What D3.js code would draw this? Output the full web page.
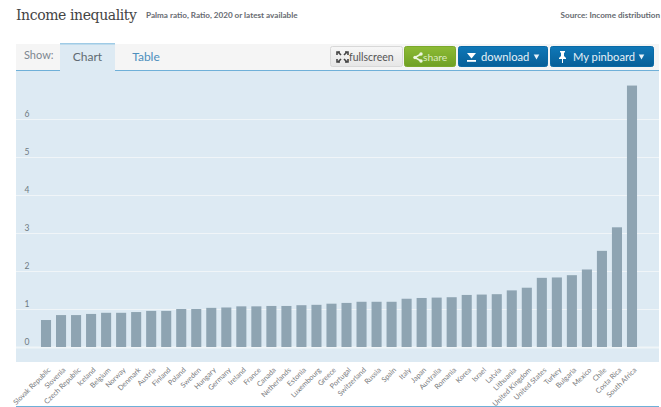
<!DOCTYPE html>
<html>
<head>
<meta charset="utf-8">
<script src="https://cdn.jsdelivr.net/npm/d3@7/dist/d3.min.js"></script>
<style>
html,body{margin:0;padding:0;background:#fff;overflow:hidden}
svg{display:block}
text{font-family:Lato,"Open Sans",sans-serif}
</style>
</head>
<body>
<svg id="chart" width="661" height="407"></svg>
<script>
const countries = ["Slovak Republic","Slovenia","Czech Republic","Iceland","Belgium","Norway","Denmark","Austria","Finland","Poland","Sweden","Hungary","Germany","Ireland","France","Canada","Netherlands","Estonia","Luxembourg","Greece","Portugal","Switzerland","Russia","Spain","Italy","Japan","Australia","Romania","Korea","Israel","Latvia","Lithuania","United Kingdom","United States","Turkey","Bulgaria","Mexico","Chile","Costa Rica","South Africa"];
const palmaRatio = [0.71,0.84,0.84,0.87,0.9,0.9,0.92,0.95,0.95,1.0,1.0,1.03,1.04,1.07,1.07,1.08,1.08,1.1,1.11,1.14,1.16,1.19,1.19,1.19,1.27,1.29,1.3,1.31,1.37,1.38,1.39,1.49,1.56,1.82,1.83,1.89,2.04,2.53,3.15,6.88];
const yTicks = [0,1,2,3,4,5,6];

const svg = d3.select("#chart");

// Page heading
svg.append("text").attr("x",16).attr("y",19.5).attr("font-size",14)
  .style("font-family","'DejaVu Serif',serif").attr("textLength",121).attr("lengthAdjust","spacing")
  .attr("fill","#444").text("Income inequality");
svg.append("text").attr("x",146).attr("y",17.5).attr("font-size",8.15).attr("font-weight",700)
  .attr("fill","#666a70").text("Palma ratio, Ratio, 2020 or latest available");
svg.append("text").attr("x",660).attr("y",17.5).attr("text-anchor","end").attr("font-size",8.15).attr("font-weight",700)
  .attr("fill","#666a70").text("Source: Income distribution");

// Tab strip
svg.append("rect").attr("x",16).attr("y",44).attr("width",643).attr("height",26).attr("fill","#f5f5f5");
svg.append("rect").attr("x",16).attr("y",70).attr("width",643).attr("height",1).attr("fill","#6fb0d8");
svg.append("text").attr("x",24).attr("y",59).attr("font-size",11).attr("fill","#7d8790").text("Show:");
svg.append("rect").attr("x",60).attr("y",43).attr("width",55).attr("height",29).attr("fill","#ddeaf3");
svg.append("rect").attr("x",60).attr("y",43).attr("width",55).attr("height",1.5).attr("fill","#9fcbe6");
svg.append("text").attr("x",87.5).attr("y",61).attr("text-anchor","middle").attr("font-size",12).attr("fill","#5f6a72").text("Chart");
svg.append("text").attr("x",146).attr("y",61).attr("text-anchor","middle").attr("font-size",12).attr("fill","#4d8fbd").text("Table");

// Toolbar buttons
const buttons = [
  {x:330,w:72,top:"#f7f7f7",bot:"#e6e6e6",stroke:"#d8d8d8",fg:"#555",label:"fullscreen",tx:349,size:10.5},
  {x:404,w:51,top:"#8dbb35",bot:"#6fa024",stroke:"#7ba82c",fg:"#dcebc0",label:"share",tx:423,size:10.3},
  {x:458,w:89,top:"#0f78b8",bot:"#075f98",stroke:"#0a6aa6",fg:"#e6f1f8",label:"download",tx:481,size:11.2,caret:536.5},
  {x:550,w:103,top:"#0f78b8",bot:"#075f98",stroke:"#0a6aa6",fg:"#e6f1f8",label:"My pinboard",tx:573,size:11.2,caret:641.5}
];
const defs = svg.append("defs");
buttons.forEach((b,i)=>{
  const g = defs.append("linearGradient").attr("id","btn"+i).attr("x1",0).attr("x2",0).attr("y1",0).attr("y2",1);
  g.append("stop").attr("offset",0).attr("stop-color",b.top);
  g.append("stop").attr("offset",1).attr("stop-color",b.bot);
  svg.append("rect").attr("x",b.x+.5).attr("y",46.5).attr("width",b.w).attr("height",20).attr("rx",2)
    .attr("fill",`url(#btn${i})`).attr("stroke",b.stroke);
  svg.append("text").attr("x",b.tx).attr("y",60.5).attr("font-size",b.size).attr("fill",b.fg).text(b.label);
  if (b.caret) svg.append("path").attr("d",`M${b.caret-2.8} 54.5h5.6l-2.8 5z`).attr("fill","#e6f1f8");
});
// Fullscreen arrows
svg.append("g").attr("stroke","#444").attr("stroke-width",1.6).attr("fill","none")
  .selectAll("path").data(["M338 52l3 3","M347 52l-3 3","M338 62l3-3","M347 62l-3-3","M337 55v-3h3","M348 55v-3h-3","M337 59v3h3","M348 59v3h-3"])
  .join("path").attr("d",d=>d);
// Share glyph
svg.append("path").attr("d","M421 54l-6 3.5l6 3.5").attr("fill","none").attr("stroke","#eef6df").attr("stroke-width",1.6);
svg.append("g").attr("fill","#eef6df").selectAll("circle").data([[421,54],[415,57.5],[421,61]])
  .join("circle").attr("cx",d=>d[0]).attr("cy",d=>d[1]).attr("r",1.7);
// Download glyph
svg.append("path").attr("d","M467 53h9l-4.5 5.5z").attr("fill","#fff");
svg.append("rect").attr("x",467).attr("y",60).attr("width",9).attr("height",1.8).attr("fill","#fff");
// Pin glyph
svg.append("path").attr("d","M560 51h5v1l-1 1v3l2 2v1h-3v4h-1v-4h-3v-1l2-2v-3l-1-1z").attr("fill","#fff");

// Plot area
const plot = {left:16,right:659,top:71,bottom:362};
svg.append("rect").attr("x",plot.left).attr("y",plot.top)
  .attr("width",plot.right-plot.left).attr("height",plot.bottom-plot.top).attr("fill","#ddeaf3");

const x = d3.scaleBand().domain(countries).range([38.5,639.5]).paddingInner(0.33).paddingOuter(0.165);
const y = d3.scaleLinear().domain([0,6]).range([347,119]);

// Horizontal gridlines, heavier on the zero baseline
svg.append("g").selectAll("line").data(yTicks).join("line")
  .attr("x1",plot.left).attr("x2",plot.right)
  .attr("y1",d=>y(d)+.5).attr("y2",d=>y(d)+.5)
  .attr("stroke","#f0f5f8").attr("stroke-width",d=>d===0?2:1);

svg.append("g").selectAll("rect").data(countries).join("rect")
  .attr("x",d=>x(d)).attr("width",x.bandwidth())
  .attr("y",(d,i)=>y(palmaRatio[i]))
  .attr("height",(d,i)=>y(0)-y(palmaRatio[i]))
  .attr("fill","#8ea4b2");

svg.append("g").selectAll("text").data(yTicks).join("text")
  .attr("x",27).attr("y",d=>y(d)-2).attr("text-anchor","middle")
  .attr("font-size",8.5).attr("fill","#6f7a82").text(d=>d);

// Slanted country labels
svg.append("g").selectAll("text").data(countries).join("text")
  .attr("text-anchor","end").attr("font-size",7.2).attr("fill","#77797c")
  .attr("transform",d=>`translate(${x(d)+x.bandwidth()/2+5},370.5) rotate(-45)`)
  .text(d=>d);

// Rule under the chart
svg.append("rect").attr("x",16).attr("y",406).attr("width",643).attr("height",1).attr("fill","#6fb0d8");
</script>
</body>
</html>
